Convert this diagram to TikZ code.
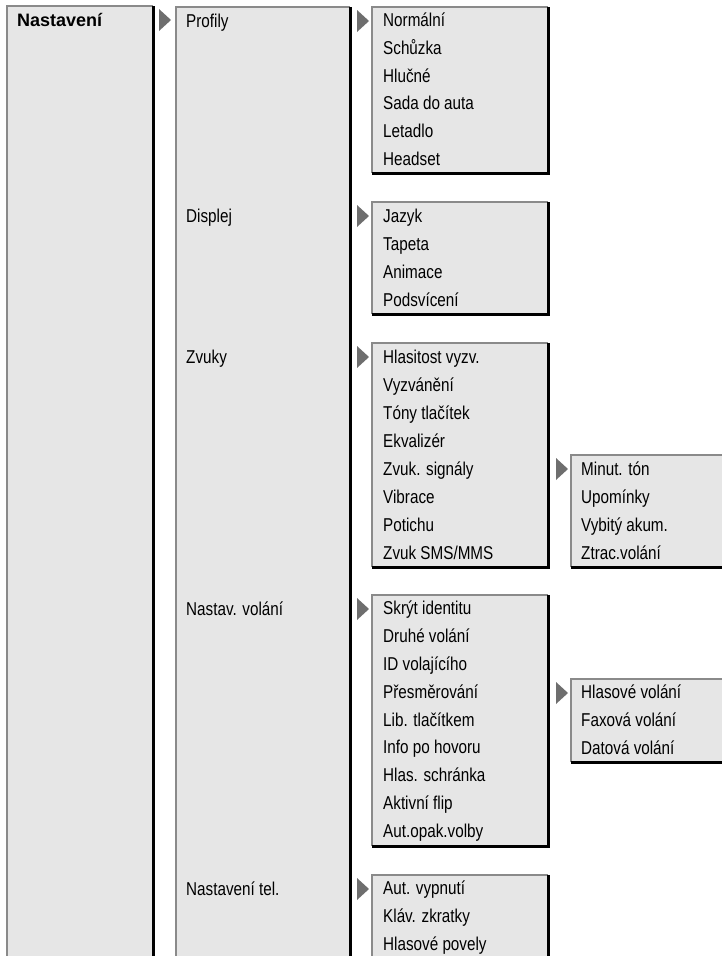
\documentclass[tikz,border=0pt]{standalone}
\usepackage{fontspec}
\setmainfont{Liberation Sans}[FakeStretch=0.82]
\newfontfamily\headfont{Liberation Sans}
\definecolor{boxfill}{HTML}{E6E6E6}
\definecolor{edgegray}{HTML}{8A8A8A}
\definecolor{trigray}{HTML}{6E6E6E}
\tikzset{
  menubox/.style={rectangle, fill=boxfill, draw=none, inner sep=0pt, outer sep=0pt, anchor=north west},
  grayedge/.style={draw=edgegray, line width=1.5pt},
  blackedge/.style={draw=black, line width=3pt},
  item/.style={anchor=base west, inner sep=0pt, font=\fontsize{18.6}{22}\selectfont},
  headitem/.style={anchor=base west, inner sep=0pt, font=\headfont\bfseries\fontsize{18}{22}\selectfont},
  tri/.style={fill=trigray}
}
\newcommand\menuframe[5]{%
  \node[menubox, minimum width={#4pt-#2pt}, minimum height={#5pt-#3pt}] (#1) at (#2,#3) {};
  \draw[grayedge] (#1.south west) |- (#1.north east);
  \draw[blackedge] (#1.north east) |- (#1.south west);
}
\newcommand\menutri[2]{%
  \fill[tri] ({#1},{#2-11}) -- ({#1+12},{#2}) -- ({#1},{#2+11}) -- cycle;
}
\begin{document}
\begin{tikzpicture}[x=1pt,y=-1pt]
\useasboundingbox (0,0) rectangle (722,956);
% column 1 and 2
\menuframe{c1}{7}{6}{153}{1000}
\menuframe{c2}{176}{7}{350}{1000}
% column 3 boxes
\menuframe{bP}{372}{7}{548}{173}
\menuframe{bD}{372}{202}{548}{314}
\menuframe{bZ}{372}{343}{548}{567}
\menuframe{bV}{372}{595}{548}{846}
\menuframe{bT}{372}{875}{548}{1000}
% column 4 boxes
\menuframe{bS}{571}{455}{740}{567}
\menuframe{bR}{571}{679}{740}{762}
% triangles
\menutri{159}{20}
\menutri{357}{21}
\menutri{357}{216}
\menutri{357}{357}
\menutri{357}{609}
\menutri{357}{889}
\menutri{556}{469}
\menutri{556}{693}
% column 1
\node[headitem] (n1) at (17,26) {Nastavení};
% column 2
\node[item] (m1) at (186,27) {Profily};
\node[item] (m2) at (186,222) {Displej};
\node[item] (m3) at (186,363) {Zvuky};
\node[item] (m4) at (186,615) {Nastav. volání};
\node[item] (m5) at (186,895) {Nastavení tel.};
% column 3 items
\foreach \t [count=\i] in {Normální, Schůzka, Hlučné, Sada do auta, Letadlo, Headset}
  \node[item] (p\i) at (383,{7+27.67*(\i-0.5)+6}) {\t};
\foreach \t [count=\i] in {Jazyk, Tapeta, Animace, Podsvícení}
  \node[item] (d\i) at (383,{202+28*(\i-0.5)+6}) {\t};
\foreach \t [count=\i] in {Hlasitost vyzv., Vyzvánění, Tóny tlačítek, Ekvalizér, Zvuk. signály, Vibrace, Potichu, Zvuk SMS/MMS}
  \node[item] (z\i) at (383,{343+28*(\i-0.5)+6}) {\t};
\foreach \t [count=\i] in {Skrýt identitu, Druhé volání, ID volajícího, Přesměrování, Lib. tlačítkem, Info po hovoru, Hlas. schránka, Aktivní flip, Aut.opak.volby}
  \node[item] (v\i) at (383,{595+27.8*(\i-0.5)+6}) {\t};
\foreach \t [count=\i] in {Aut. vypnutí, Kláv. zkratky, Hlasové povely}
  \node[item] (t\i) at (383,{875+27.7*(\i-0.5)+6}) {\t};
% column 4 items
\foreach \t [count=\i] in {Minut. tón, Upomínky, Vybitý akum., Ztrac.volání}
  \node[item] (s\i) at (581,{455+28*(\i-0.5)+6}) {\t};
\foreach \t [count=\i] in {Hlasové volání, Faxová volání, Datová volání}
  \node[item] (r\i) at (581,{679+27.7*(\i-0.5)+6}) {\t};
\end{tikzpicture}
\end{document}
